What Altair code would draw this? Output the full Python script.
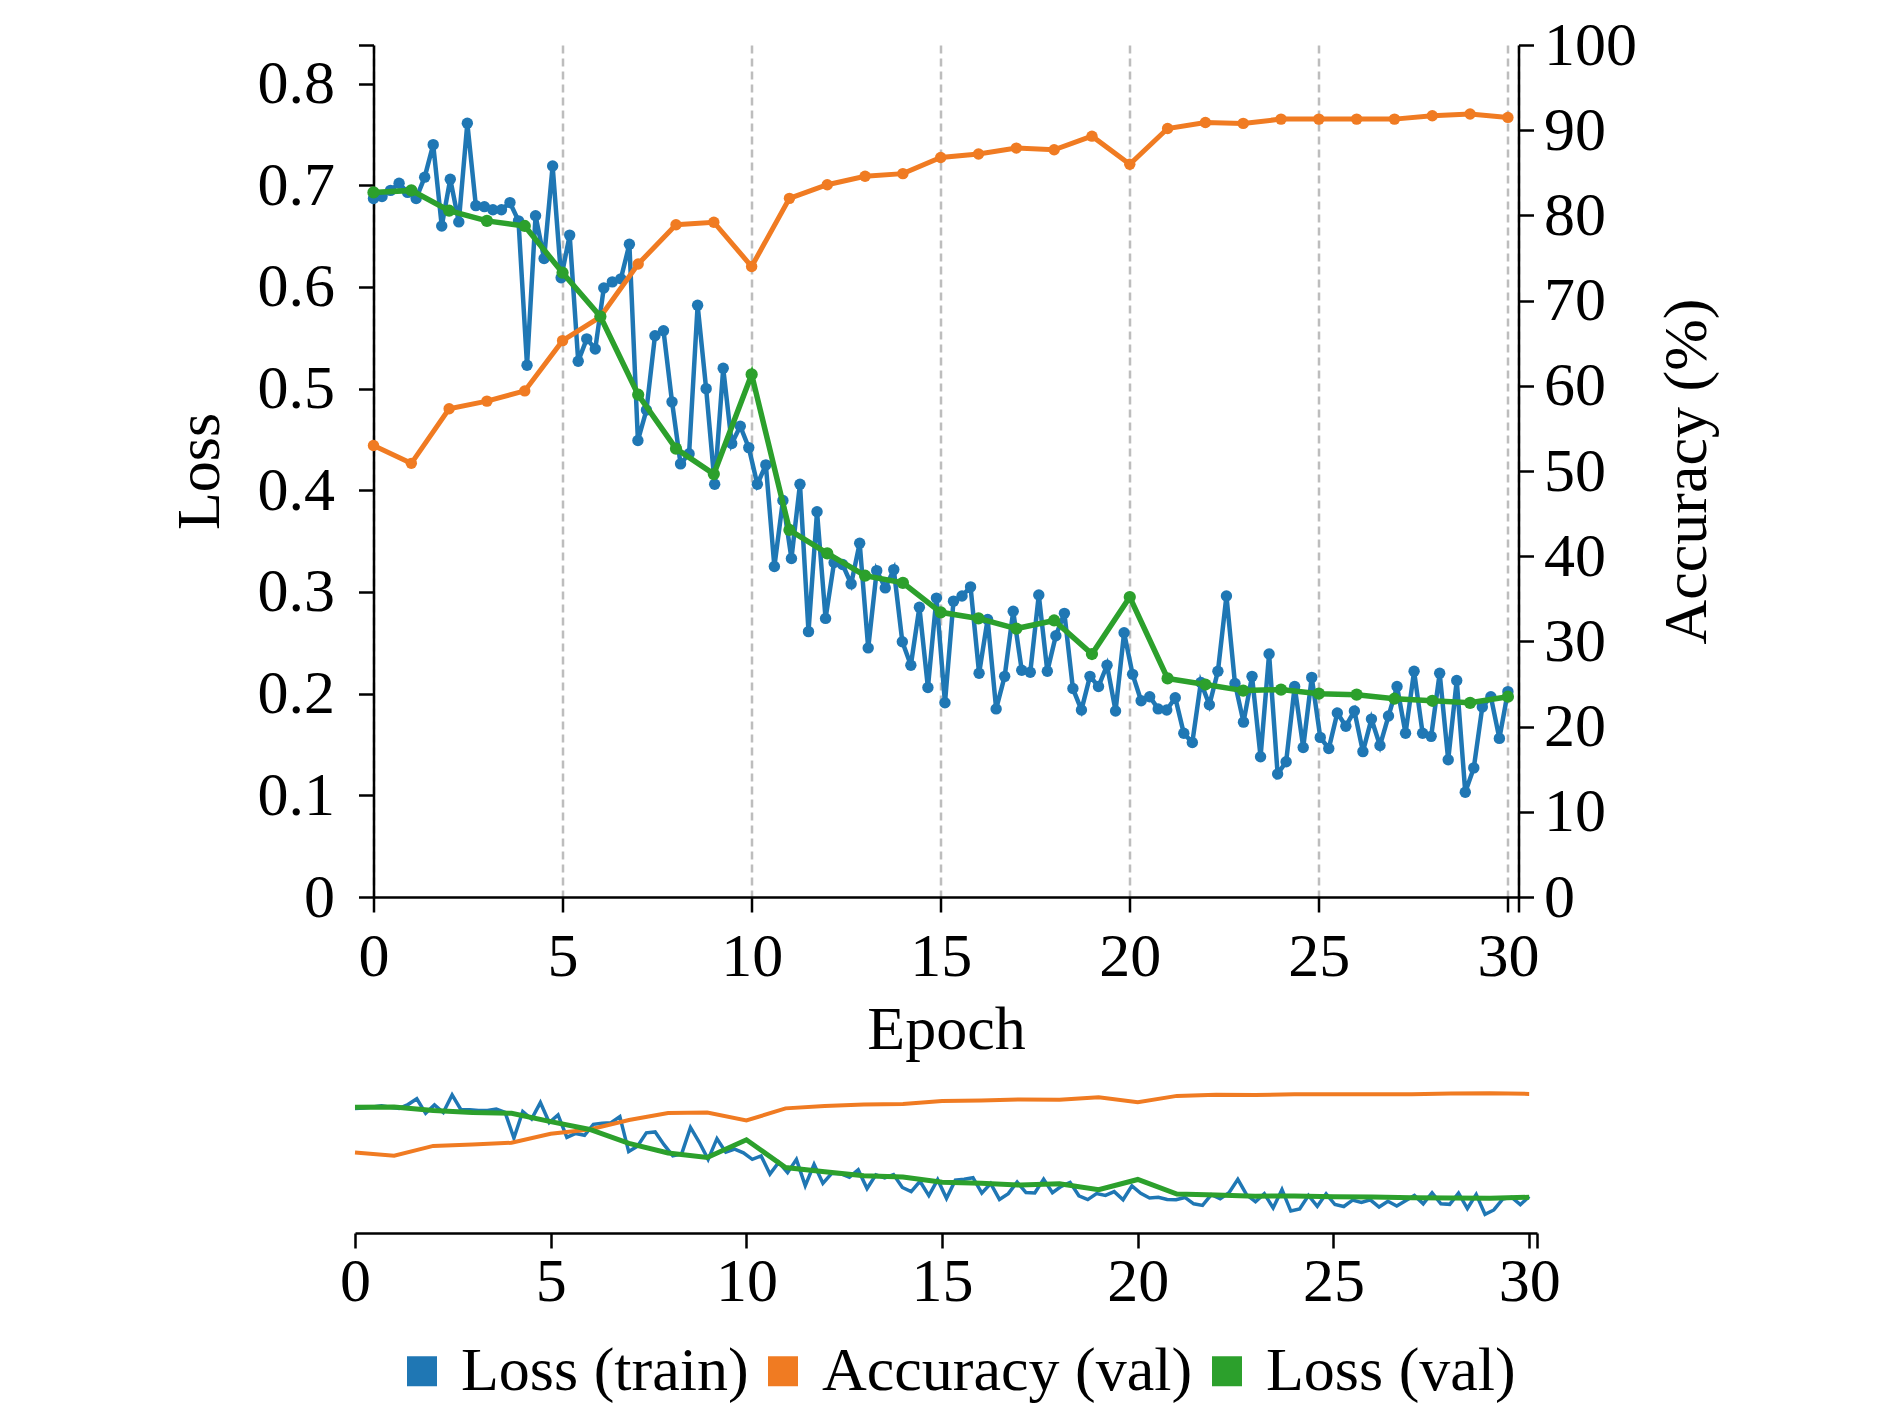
import pandas as pd
import altair as alt

# ---------- data ----------

series_names = ["Loss (train)", "Accuracy (val)", "Loss (val)"]
series_colors = ["#1f77b4", "#f07b22", "#2ca02c"]

# training loss, logged about 4.4 times per epoch (134 points over 30 epochs)
train_loss = [
    0.687, 0.689, 0.695, 0.702, 0.693, 0.687, 0.708, 0.740, 0.660, 0.706,
    0.664, 0.761, 0.680, 0.679, 0.676, 0.676, 0.683, 0.665, 0.523, 0.670,
    0.628, 0.719, 0.609, 0.651, 0.527, 0.549, 0.539, 0.599, 0.605, 0.608,
    0.642, 0.449, 0.479, 0.552, 0.557, 0.487, 0.426, 0.436, 0.582, 0.500,
    0.406, 0.520, 0.446, 0.463, 0.442, 0.406, 0.425, 0.325, 0.390, 0.333,
    0.406, 0.261, 0.379, 0.274, 0.329, 0.327, 0.308, 0.348, 0.245, 0.321,
    0.304, 0.322, 0.251, 0.228, 0.285, 0.206, 0.294, 0.191, 0.291, 0.296,
    0.305, 0.220, 0.273, 0.185, 0.217, 0.281, 0.223, 0.221, 0.297, 0.222,
    0.257, 0.279, 0.205, 0.184, 0.217, 0.207, 0.228, 0.183, 0.260, 0.219,
    0.193, 0.197, 0.185, 0.184, 0.196, 0.161, 0.152, 0.211, 0.189, 0.222,
    0.296, 0.210, 0.172, 0.217, 0.138, 0.239, 0.121, 0.133, 0.207, 0.147,
    0.216, 0.157, 0.146, 0.181, 0.168, 0.183, 0.143, 0.175, 0.149, 0.178,
    0.207, 0.161, 0.222, 0.161, 0.158, 0.220, 0.135, 0.213, 0.103, 0.127,
    0.187, 0.197, 0.156, 0.202,
]

val_epochs = list(range(31))
val_loss = [
    0.693, 0.695, 0.675, 0.665, 0.660, 0.614, 0.571, 0.494, 0.441, 0.416,
    0.514, 0.361, 0.338, 0.316, 0.309, 0.280, 0.274, 0.264, 0.272, 0.239,
    0.295, 0.215, 0.209, 0.203, 0.204, 0.200, 0.199, 0.195, 0.193, 0.191,
    0.197,
]
val_acc = [
    53.0, 50.9, 57.3, 58.2, 59.4, 65.3, 68.1, 74.3, 78.9, 79.2,
    74.0, 82.0, 83.6, 84.6, 84.9, 86.8, 87.2, 87.9, 87.7, 89.3,
    86.0, 90.2, 90.9, 90.8, 91.3, 91.3, 91.3, 91.3, 91.7, 91.9,
    91.5,
]

epoch_ticks = [0, 5, 10, 15, 20, 25, 30]
loss_ticks = [0, 0.1, 0.2, 0.3, 0.4, 0.5, 0.6, 0.7, 0.8]
acc_ticks = [0, 10, 20, 30, 40, 50, 60, 70, 80, 90, 100]

loss_max = 0.838
epoch_max_top = 30.28
epoch_max_bottom = 30.2

# ---------- frames ----------

steps_per_epoch = (len(train_loss) - 1) / 30
train_df = pd.DataFrame({
    "epoch": [i / steps_per_epoch for i in range(len(train_loss))],
    "value": train_loss,
    "series": series_names[0],
})
acc_df = pd.DataFrame({"epoch": val_epochs, "value": val_acc, "series": series_names[1]})
val_df = pd.DataFrame({"epoch": val_epochs, "value": val_loss, "series": series_names[2]})

FONT = "Liberation Serif"

# square swatches: a 15px square with a 15px stroke reads as a solid 30px block
legend_def = alt.Legend(
    title=None,
    orient="none",
    direction="horizontal",
    legendX=36,
    legendY=1295,
    symbolType="square",
    symbolSize=225,
    symbolStrokeWidth=15,
    symbolOpacity=1,
    labelFont=FONT,
    labelFontSize=62,
    labelColor="black",
    labelOffset=8,
    columnPadding=-4,
    labelLimit=600,
)
color_enc = alt.Color(
    "series:N",
    scale=alt.Scale(domain=series_names, range=series_colors),
    legend=legend_def,
)

# ---------- top panel ----------

x_top = alt.X(
    "epoch:Q",
    scale=alt.Scale(domain=[0, epoch_max_top], nice=False, zero=False),
    axis=alt.Axis(
        values=epoch_ticks + [epoch_max_top],
        labelExpr="datum.value > 30.1 ? '' : datum.label",
        format="d",
        labelFlush=False,
        title="Epoch",
        titlePadding=12,
        labelPadding=14,
        grid=True,
        gridDash=[8, 5],
        gridColor="#bdbdbd",
        gridWidth=2.5,
    ),
)

loss_scale = alt.Scale(domain=[0, loss_max], nice=False, zero=True)

train_line = (
    alt.Chart(train_df)
    .mark_line(strokeWidth=4.5, point=alt.OverlayMarkDef(filled=True, size=130, opacity=1))
    .encode(
        x=x_top,
        y=alt.Y(
            "value:Q",
            scale=loss_scale,
            axis=alt.Axis(
                values=loss_ticks + [loss_max],
                labelExpr="datum.value > 0.81 ? '' : format(datum.value, '~g')",
                title="Loss",
                titlePadding=26,
                labelPadding=24,
                grid=False,
            ),
        ),
        color=color_enc,
    )
)

acc_line = (
    alt.Chart(acc_df)
    .mark_line(strokeWidth=5, point=alt.OverlayMarkDef(filled=True, size=130, opacity=1))
    .encode(
        x=x_top,
        y=alt.Y(
            "value:Q",
            scale=alt.Scale(domain=[0, 100], nice=False),
            axis=alt.Axis(
                orient="right",
                values=acc_ticks,
                title="Accuracy (%)",
                titleAngle=270,
                titlePadding=82,
                labelPadding=10,
                grid=False,
            ),
        ),
        color=color_enc,
    )
)

val_line = (
    alt.Chart(val_df)
    .mark_line(strokeWidth=5.5, point=alt.OverlayMarkDef(filled=True, size=150, opacity=1))
    .encode(
        x=x_top,
        y=alt.Y("value:Q", scale=loss_scale, axis=None),
        color=color_enc,
    )
)

top = (
    alt.layer(train_line, acc_line, val_line)
    .resolve_scale(y="independent")
    .properties(width=1145, height=852)
)

# ---------- bottom overview panel ----------

x_bottom = alt.X(
    "epoch:Q",
    scale=alt.Scale(domain=[0, epoch_max_bottom], nice=False, zero=False),
    axis=alt.Axis(
        values=epoch_ticks + [epoch_max_bottom],
        labelExpr="datum.value > 30.1 ? '' : datum.label",
        format="d",
        labelFlush=False,
        title=None,
        labelPadding=3,
        grid=False,
    ),
)

train_small = alt.Chart(train_df).mark_line(strokeWidth=3.5).encode(
    x=x_bottom, y=alt.Y("value:Q", scale=loss_scale, axis=None), color=color_enc
)
acc_small = alt.Chart(acc_df).mark_line(strokeWidth=4).encode(
    x=x_bottom,
    y=alt.Y("value:Q", scale=alt.Scale(domain=[0, 100], nice=False), axis=None),
    color=color_enc,
)
val_small = alt.Chart(val_df).mark_line(strokeWidth=5).encode(
    x=x_bottom, y=alt.Y("value:Q", scale=loss_scale, axis=None), color=color_enc
)

bottom = (
    alt.layer(train_small, acc_small, val_small)
    .resolve_scale(y="independent")
    .properties(width=1182, height=152)
)

chart = (
    alt.vconcat(top, bottom, spacing=184, center=True, bounds="flush")
    .properties(padding={"left": 160, "top": 6, "right": 20, "bottom": 20})
    .configure_view(stroke=None)
    .configure_axis(
        domainColor="black",
        domainWidth=2.5,
        tickColor="black",
        tickWidth=2.5,
        tickSize=15,
        labelFont=FONT,
        labelFontSize=62,
        labelColor="black",
        titleFont=FONT,
        titleFontSize=62,
        titleFontWeight="normal",
        titleColor="black",
    )
)

chart.save("out.html", embed_options={"renderer": "svg", "actions": False})
